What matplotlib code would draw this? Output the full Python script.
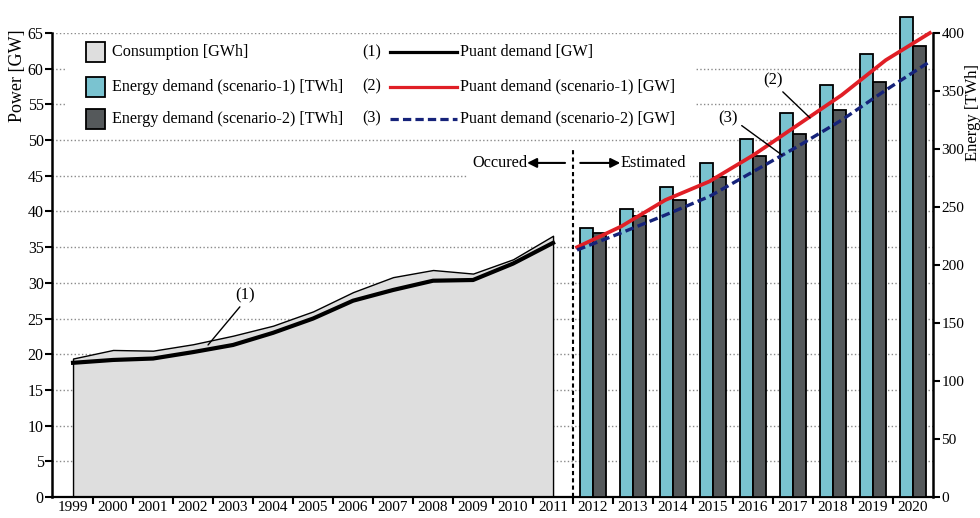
import numpy as np
import matplotlib
matplotlib.use("Agg")
import matplotlib.pyplot as plt
from matplotlib.patches import Rectangle
from matplotlib.lines import Line2D

plt.rcParams['font.family'] = ['Liberation Serif', 'DejaVu Serif']

# Occured period: consumption and puant demand (GW scale)
past_years = np.arange(1999, 2012)
consumption = [19.4, 20.6, 20.5, 21.4, 22.6, 24.0, 26.0, 28.7, 30.8, 31.8, 31.3, 33.3, 36.6]
puant_demand = [18.8, 19.2, 19.4, 20.3, 21.3, 23.0, 25.0, 27.5, 29.0, 30.3, 30.4, 32.7, 35.6]

# Estimated period: energy demand per scenario (TWh)
est_years = np.arange(2012, 2021)
energy_s1 = [232, 248, 267, 288, 309, 331, 355, 382, 414]
energy_s2 = [228, 242, 256, 276, 294, 313, 334, 358, 389]

# Estimated puant demand per scenario (GW)
puant_s1 = [35.0, 37.9, 41.6, 44.2, 47.9, 52.1, 56.3, 61.2, 65.0]
puant_s2 = [34.6, 37.0, 39.5, 42.1, 45.6, 49.1, 52.8, 57.0, 61.0]

patch_labels = ['Consumption [GWh]', 'Energy demand (scenario-1) [TWh]',
                'Energy demand (scenario-2) [TWh]']
line_labels = ['Puant demand [GW]', 'Puant demand (scenario-1) [GW]',
               'Puant demand (scenario-2) [GW]']

c_cons = '#dedede'
c_s1 = '#7ac3d0'
c_s2 = '#55595b'
c_red = '#e01f26'
c_blue = '#16237a'

fig = plt.figure(figsize=(9.8, 5.18), dpi=100)
ax1 = fig.add_axes([0.0531, 0.0405, 0.899, 0.8958])
ax2 = ax1.twinx()

ax1.set_xlim(1998.475, 2020.5)
ax1.set_ylim(0, 65)
ax2.set_ylim(0, 400)

# grid
ax1.set_yticks(np.arange(0, 66, 5))
ax1.set_axisbelow(True)
ax1.yaxis.grid(True, linestyle=':', color='#8a8a8a', linewidth=1.0)

# white areas behind the legend and the period labels
ax1.add_patch(Rectangle((0.0159, 0.78), 0.714, 0.209, transform=ax1.transAxes,
                        facecolor='white', edgecolor='none', zorder=1))
ax1.add_patch(Rectangle((0.471, 0.683), 0.253, 0.069, transform=ax1.transAxes,
                        facecolor='white', edgecolor='none', zorder=1))

# occured consumption and puant demand
ax1.fill_between(past_years, consumption, facecolor=c_cons, edgecolor='black',
                 linewidth=1.0, zorder=2)
ax1.plot(past_years, puant_demand, color='black', linewidth=3.0, zorder=3)

# split between occured and estimated
split_year = 2011.5
ax1.axvline(split_year, ymax=49 / 65, color='black', linestyle=(0, (2, 1.5)),
            linewidth=1.5, zorder=4)
label_y = 46.8
arrow = dict(arrowstyle='-|>', color='black', linewidth=1.5, mutation_scale=14,
             shrinkA=0, shrinkB=0)
ax1.annotate('', xy=(2010.35, label_y), xytext=(2011.3, label_y), arrowprops=arrow, zorder=5)
ax1.annotate('', xy=(2012.68, label_y), xytext=(2011.68, label_y), arrowprops=arrow, zorder=5)
ax1.text(2010.35, label_y, 'Occured', ha='right', va='center', fontsize=11.7, zorder=5)
ax1.text(2012.68, label_y, 'Estimated', ha='left', va='center', fontsize=11.7, zorder=5)

ax1.annotate('(1)', xy=(2002.375, 21.3), xytext=(2003.3, 28.3), ha='center', va='center',
             fontsize=12, zorder=5,
             arrowprops=dict(arrowstyle='-', color='black', linewidth=1.0,
                             relpos=(0.4, 0.0), shrinkA=1, shrinkB=0))

# estimated energy demand bars
bw = 0.325
ax2.bar(est_years - bw / 2, energy_s1, bw, color=c_s1, edgecolor='black',
        linewidth=1.3, clip_on=False, zorder=2)
ax2.bar(est_years + bw / 2, energy_s2, bw, color=c_s2, edgecolor='black',
        linewidth=1.3, clip_on=False, zorder=2)

# estimated puant demand lines, drawn in GW over the bars
peak_x = np.linspace(2011.6, 2020.42, len(est_years))
ax2.plot(peak_x, puant_s1, color=c_red, linewidth=2.7, transform=ax1.transData,
         clip_on=False, zorder=3)
ax2.plot(peak_x, puant_s2, color=c_blue, linewidth=2.4, linestyle=(0, (2.6, 1.3)),
         transform=ax1.transData, clip_on=False, zorder=3)

ax2.annotate('(2)', xy=(2017.425, 53.1), xytext=(2016.5, 58.4),
             xycoords=ax1.transData, textcoords=ax1.transData, ha='center', va='center',
             fontsize=12, zorder=5,
             arrowprops=dict(arrowstyle='-', color='black', linewidth=1.0,
                             relpos=(0.8, 0.0), shrinkA=1, shrinkB=0))
ax2.annotate('(3)', xy=(2016.725, 47.9), xytext=(2015.375, 53.1),
             xycoords=ax1.transData, textcoords=ax1.transData, ha='center', va='center',
             fontsize=12, zorder=5,
             arrowprops=dict(arrowstyle='-', color='black', linewidth=1.0,
                             relpos=(1.0, 0.2), shrinkA=1, shrinkB=0))

# legend
row_y = [0.959, 0.884, 0.815]
patch_colors = [c_cons, c_s1, c_s2]
line_styles = [('black', '-'), (c_red, '-'), (c_blue, (0, (2.6, 1.3)))]
for i in range(3):
    y = row_y[i]
    ax2.add_patch(Rectangle((0.0386, y - 0.0215), 0.0216, 0.043, transform=ax2.transAxes,
                            facecolor=patch_colors[i], edgecolor='black', linewidth=1.3,
                            zorder=6))
    ax2.text(0.068, y, patch_labels[i], transform=ax2.transAxes, ha='left', va='center',
             fontsize=11.6, zorder=6)
    ax2.text(0.352, y, '(%d)' % (i + 1), transform=ax2.transAxes, ha='left', va='center',
             fontsize=11.6, zorder=6)
    col, ls = line_styles[i]
    ax2.add_line(Line2D([0.3837, 0.4597], [y, y], transform=ax2.transAxes, color=col,
                        linestyle=ls, linewidth=2.3, zorder=6))
    ax2.text(0.4631, y, line_labels[i], transform=ax2.transAxes, ha='left', va='center',
             fontsize=11.6, zorder=6)

# axes styling
for side in ['top', 'right']:
    ax1.spines[side].set_visible(False)
for side in ['top', 'left', 'bottom']:
    ax2.spines[side].set_visible(False)
ax1.spines['left'].set_linewidth(1.8)
ax1.spines['bottom'].set_linewidth(1.6)
ax2.spines['right'].set_linewidth(1.8)

ax1.set_xticks(np.arange(1999.5, 2020, 1))
ax1.set_xticklabels([])
ax1.set_xticks(np.arange(1999, 2021), minor=True)
ax1.set_xticklabels([str(y) for y in range(1999, 2021)], minor=True)
ax1.tick_params(axis='x', which='major', direction='out', length=5, width=1.5)
ax1.tick_params(axis='x', which='minor', length=0, labelsize=11, pad=3)
ax1.tick_params(axis='y', direction='out', length=5, width=1.5, labelsize=11.5, pad=1)

ax2.set_yticks(np.arange(0, 401, 50))
ax2.tick_params(axis='y', direction='out', length=5, width=1.5, labelsize=11, pad=1)

ax1.set_ylabel('Power [GW]', fontsize=13)
ax1.yaxis.set_label_coords(-0.0295, 0.909)
ax2.set_ylabel('Energy [TWh]', fontsize=12)
ax2.yaxis.set_label_coords(1.036, 0.828)

fig.savefig('out.png', dpi=100)
